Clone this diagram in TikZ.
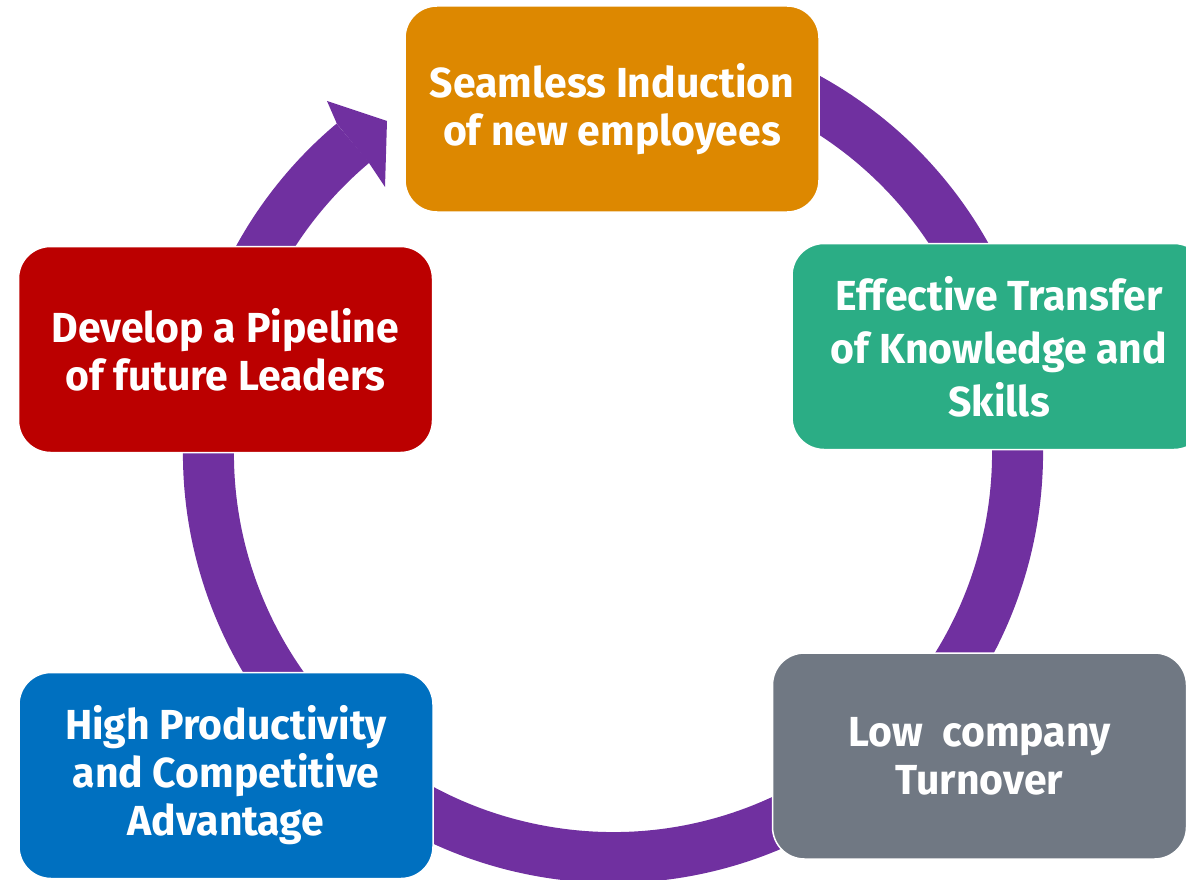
\documentclass[tikz,border=0pt]{standalone}
\usepackage{fontspec}
\setmainfont[FakeStretch=0.975]{Fira Sans}
\definecolor{ringc}{HTML}{7030A0}
\definecolor{inducc}{HTML}{DD8800}
\definecolor{transc}{HTML}{2BAD85}
\definecolor{lowc}{HTML}{707883}
\definecolor{prodc}{HTML}{0070C0}
\definecolor{leadc}{HTML}{BB0000}
\begin{document}
\begin{tikzpicture}[
    x=1pt, y=-1pt,
    font=\fontsize{42}{48}\selectfont\bfseries
]
	\tikzset{
	    mybox/.style = {rectangle, rounded corners=32pt, draw=white, line width=1.5pt,
	        minimum width=414pt, minimum height=206pt, inner sep=0pt,
	        align=center, text=white},
	    ringn/.style = {draw=ringc, line width=51pt}
	}
	\clip (0,0) rectangle (1186,880);
	% cycle arrow behind the boxes
	\draw[ringn] (613,453) ++(-80:404.5) arc[start angle=-80, end angle=230, radius=404.5];
	\fill[ringc] (337,124) -- (327,101) -- (387,121) -- (385,187) -- (369,163) -- cycle;
	% boxes
	\node[mybox, fill=inducc] at (612,109) (induc) {Seamless Induction\\of new employees};
	\node[mybox, fill=transc, font=\fontsize{42}{53}\selectfont\bfseries] at (999,346.5) (trans) {Effective Transfer\\of Knowledge and\\Skills};
	\node[mybox, fill=lowc] at (979.5,756) (low) {Low~ company\\Turnover};
	\node[mybox, fill=prodc] at (226,775.5) (prod) {High Productivity\\and Competitive\\Advantage};
	\node[mybox, fill=leadc] at (225.5,349.5) (lead) {Develop a Pipeline\\of future Leaders};
\end{tikzpicture}
\end{document}
